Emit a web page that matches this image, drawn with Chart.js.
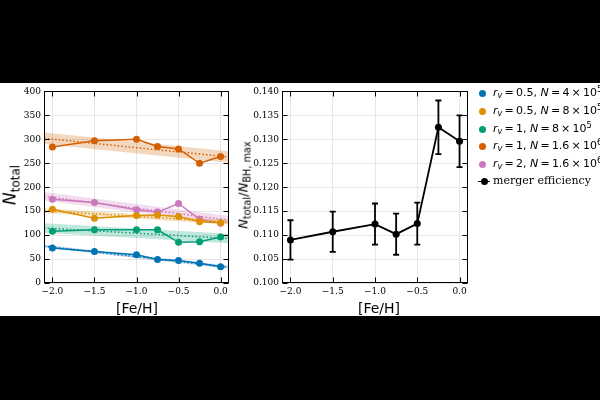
<!DOCTYPE html>
<html>
<head>
<meta charset="utf-8">
<script src="https://cdn.jsdelivr.net/npm/chart.js@4/dist/chart.umd.min.js"></script>
<style>
html,body{margin:0;padding:0;background:#000;width:600px;height:400px;overflow:hidden}
#panel{position:absolute;left:0;top:83px;width:600px;height:233px;background:#fff;overflow:hidden}
canvas{position:absolute;top:0}
#c1{left:0}
#c2{left:240px}
.lab{position:absolute;font-family:"DejaVu Sans";color:#000;white-space:nowrap;line-height:1}
.rot{transform:translate(-50%,-50%) rotate(-90deg)}
.ctr{transform:translate(-50%,-50%)}
.leg{position:absolute;left:478px;height:16px;font-family:"DejaVu Sans";font-size:11px;line-height:16px;white-space:nowrap;color:#000}
.leg .dot{position:absolute;left:1px;top:4.5px;width:7px;height:7px;border-radius:50%}
.leg .txt{position:absolute;left:15px;top:0}
sub,sup{font-size:75%;line-height:0;position:relative;vertical-align:baseline}
sub{bottom:-0.3em}
sup{top:-0.5em}
</style>
</head>
<body>
<div id="panel">
  <canvas id="c1" width="240" height="233"></canvas>
  <canvas id="c2" width="360" height="233"></canvas>
  <div class="lab rot" style="left:10px;top:102px;font-size:17px"><i>N</i><sub style="font-size:12px">total</sub></div>
  <div class="lab ctr" style="left:137px;top:225px;font-size:14px">[Fe/H]</div>
  <div class="lab rot" style="left:243px;top:102px;font-size:13px"><i>N</i><sub>total</sub>/<i>N</i><sub>BH, max</sub></div>
  <div class="lab ctr" style="left:379px;top:225px;font-size:14px">[Fe/H]</div>
  <div id="legend"></div>
</div>
<script>
// metallicity grid
const feh = [-2.0, -1.5, -1.0, -0.75, -0.5, -0.25, 0.0];
const xTicks = [-2.0, -1.5, -1.0, -0.5, 0.0];
const yTicksLeft = [0, 50, 100, 150, 200, 250, 300, 350, 400];
const yTicksRight = [0.100, 0.105, 0.110, 0.115, 0.120, 0.125, 0.130, 0.135, 0.140];

// N_total per model
const nRv05N4e5  = [73, 66, 59, 49, 47, 41, 34];
const nRv05N8e5  = [154, 135, 141, 142, 139, 128, 126];
const nRv1N8e5   = [108, 111, 111, 111, 85, 86, 96];
const nRv1N16e6  = [284, 297, 300, 285, 280, 250, 264];
const nRv2N16e6  = [175, 168, 153, 148, 166, 133, 125];

// linear fits, value at x = -2.1 and x = 0.1, with band half-width
const fitX = [-2.1, 0.1];
const fitRv05N4e5 = [77, 33],  bandRv05N4e5 = 3;
const fitRv05N8e5 = [151, 127], bandRv05N8e5 = 5;
const fitRv1N8e5  = [115, 93],  bandRv1N8e5 = 10;
const fitRv1N16e6 = [302, 263], bandRv1N16e6 = 12;
const fitRv2N16e6 = [181, 131], bandRv2N16e6 = 9;

// merger efficiency
const eff    = [0.1090, 0.1107, 0.1123, 0.1102, 0.1124, 0.1325, 0.1296];
const effErr = [0.0041, 0.0042, 0.0043, 0.0043, 0.0044, 0.0056, 0.0054];

const eq = '&thinsp;=&thinsp;', times = '&thinsp;×&thinsp;';
const labels = [
  `<i>r</i><sub><i>v</i></sub>${eq}0.5, <i>N</i>${eq}4${times}10<sup>5</sup>`,
  `<i>r</i><sub><i>v</i></sub>${eq}0.5, <i>N</i>${eq}8${times}10<sup>5</sup>`,
  `<i>r</i><sub><i>v</i></sub>${eq}1, <i>N</i>${eq}8${times}10<sup>5</sup>`,
  `<i>r</i><sub><i>v</i></sub>${eq}1, <i>N</i>${eq}1.6${times}10<sup>6</sup>`,
  `<i>r</i><sub><i>v</i></sub>${eq}2, <i>N</i>${eq}1.6${times}10<sup>6</sup>`
];
const colors = ['#0173b2', '#de8f05', '#029e73', '#d55e00', '#cc78bc'];

const series = [
  [nRv05N4e5, fitRv05N4e5, bandRv05N4e5],
  [nRv05N8e5, fitRv05N8e5, bandRv05N8e5],
  [nRv1N8e5, fitRv1N8e5, bandRv1N8e5],
  [nRv1N16e6, fitRv1N16e6, bandRv1N16e6],
  [nRv2N16e6, fitRv2N16e6, bandRv2N16e6]
];

function rgba(hex, a) {
  const n = parseInt(hex.slice(1), 16);
  return `rgba(${n >> 16},${(n >> 8) & 255},${n & 255},${a})`;
}
const pts = (xs, ys) => xs.map((x, i) => ({x: x, y: ys[i]}));
const fmtX = v => (v < 0 ? '\u2212' : '') + Math.abs(v).toFixed(1);

// inward ticks on all four sides + closed frame
const frame = {
  id: 'frame',
  afterDraw(c) {
    const {ctx, chartArea: a, scales: {x, y}} = c;
    const L = Math.round(a.left) + 0.5, R = Math.round(a.right) - 0.5;
    const T = Math.round(a.top) + 0.5, B = Math.round(a.bottom) - 0.5;
    ctx.save();
    ctx.strokeStyle = '#000';
    ctx.lineWidth = 1;
    ctx.beginPath();
    x.ticks.forEach(t => {
      const p = Math.round(x.getPixelForValue(t.value)) + 0.5;
      ctx.moveTo(p, B); ctx.lineTo(p, B - 5);
      ctx.moveTo(p, T); ctx.lineTo(p, T + 5);
    });
    y.ticks.forEach(t => {
      const p = Math.round(y.getPixelForValue(t.value)) + 0.5;
      ctx.moveTo(L, p); ctx.lineTo(L + 5, p);
      ctx.moveTo(R, p); ctx.lineTo(R - 5, p);
    });
    ctx.stroke();
    ctx.strokeRect(L, T, R - L, B - T);
    ctx.restore();
  }
};

const errBars = {
  id: 'errBars',
  beforeDatasetsDraw(c) {
    const {ctx, scales: {x, y}} = c;
    ctx.save();
    ctx.strokeStyle = '#000';
    ctx.lineWidth = 1.8;
    ctx.beginPath();
    feh.forEach((f, i) => {
      const px = x.getPixelForValue(f);
      const t = y.getPixelForValue(eff[i] + effErr[i]);
      const b = y.getPixelForValue(eff[i] - effErr[i]);
      ctx.moveTo(px, t); ctx.lineTo(px, b);
      ctx.moveTo(px - 3, t); ctx.lineTo(px + 3, t);
      ctx.moveTo(px - 3, b); ctx.lineTo(px + 3, b);
    });
    ctx.stroke();
    ctx.restore();
  }
};

const tickFont = {family: 'DejaVu Serif', size: 9};
function axes(yMin, yMax, yTicks, yFmt, yWidth) {
  return {
    x: {
      type: 'linear', min: -2.1, max: 0.1,
      afterBuildTicks: s => { s.ticks = xTicks.map(v => ({value: v})); },
      afterFit: s => { s.height = 33; },
      ticks: {font: tickFont, color: '#000', padding: 3, maxRotation: 0, callback: v => fmtX(v)},
      grid: {color: '#e6e6e6', drawTicks: false},
      border: {display: false}
    },
    y: {
      type: 'linear', min: yMin, max: yMax,
      afterBuildTicks: s => { s.ticks = yTicks.map(v => ({value: v})); },
      afterFit: s => { s.width = yWidth; },
      ticks: {font: tickFont, color: '#000', padding: 3, callback: yFmt},
      grid: {color: '#e6e6e6', drawTicks: false},
      border: {display: false}
    }
  };
}

const leftSets = [];
series.forEach(([vals, fit, band], i) => {
  const col = colors[i];
  leftSets.push({data: pts(fitX, fit.map(v => v + band)), borderWidth: 0, pointRadius: 0, fill: false});
  leftSets.push({data: pts(fitX, fit.map(v => v - band)), borderWidth: 0, pointRadius: 0,
                 fill: '-1', backgroundColor: rgba(col, 0.25)});
  leftSets.push({data: pts(fitX, fit), borderColor: col, borderWidth: 1.5, borderDash: [1.5, 2.2],
                 pointRadius: 0, fill: false});
  leftSets.push({data: pts(feh, vals), borderColor: col, backgroundColor: col, borderWidth: 1.5,
                 pointRadius: 3.5, pointBorderWidth: 0, fill: false});
});

const common = {
  responsive: false, animation: false, events: [],
  plugins: {legend: {display: false}, tooltip: {enabled: false}}
};

new Chart(document.getElementById('c1'), {
  type: 'line',
  data: {datasets: leftSets},
  options: {...common,
    layout: {padding: {top: 4, right: 11, left: 0, bottom: 0}},
    scales: axes(0, 400, yTicksLeft, v => String(v), 44)
  },
  plugins: [frame]
});

new Chart(document.getElementById('c2'), {
  type: 'line',
  data: {datasets: [{
    data: pts(feh, eff), borderColor: '#000', backgroundColor: '#000', borderWidth: 1.8,
    pointRadius: 3.5, pointBorderWidth: 0, fill: false
  }]},
  options: {...common,
    layout: {padding: {top: 4, right: 132, left: 0, bottom: 0}},
    scales: axes(0.1, 0.14, yTicksRight, v => v.toFixed(3), 42)
  },
  plugins: [frame, errBars]
});

// legend
const leg = document.getElementById('legend');
const rowY = [10, 28, 46, 63, 81, 98];
labels.forEach((t, i) => {
  leg.insertAdjacentHTML('beforeend',
    `<div class="leg" style="top:${rowY[i] - 8}px"><span class="dot" style="background:${colors[i]}"></span><span class="txt">${t}</span></div>`);
});
leg.insertAdjacentHTML('beforeend',
  `<div class="leg" style="top:${rowY[5] - 8}px"><span style="position:absolute;left:0;top:7.5px;width:12px;height:1.5px;background:#000"></span>` +
  `<span class="dot" style="background:#000;left:2.5px"></span><span class="txt" style="font-family:'DejaVu Serif'">merger efficiency</span></div>`);
</script>
</body>
</html>
